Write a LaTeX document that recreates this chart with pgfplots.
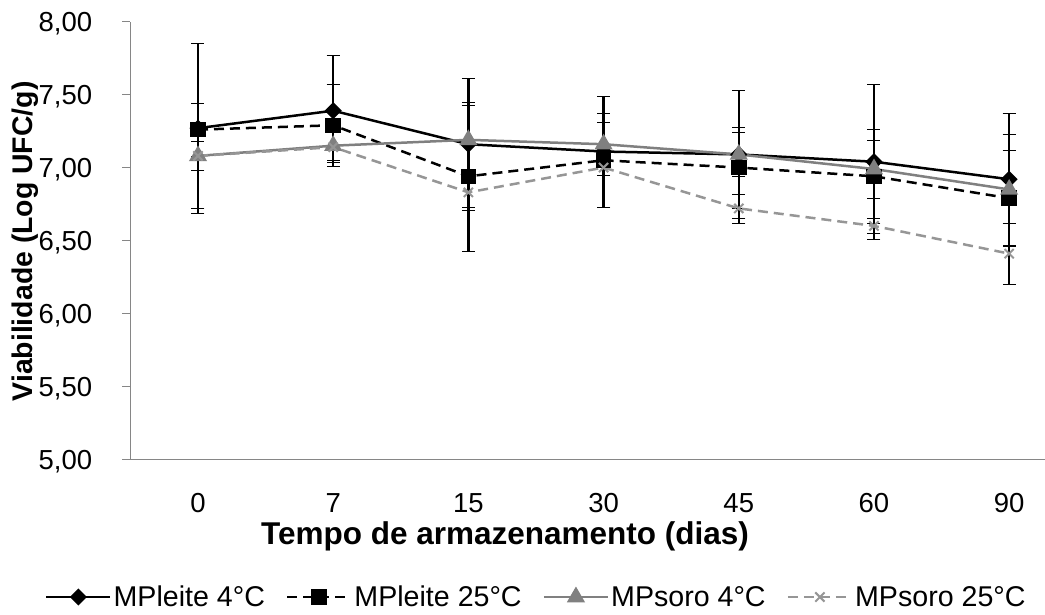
\documentclass[border=0pt]{standalone}
\usepackage{fontspec}
\setmainfont{Liberation Sans}
\usepackage{pgfplots}
\pgfplotsset{compat=1.18}
\usepackage{pgfplotstable}
\definecolor{axgray}{RGB}{134,134,134}
\definecolor{soroA}{RGB}{128,128,128}
\definecolor{soroB}{RGB}{150,150,150}

\pgfplotstableread{
x y e
0 7.27 0.58
1 7.39 0.38
2 7.16 0.45
3 7.11 0.38
4 7.09 0.44
5 7.04 0.53
6 6.92 0.45
}\leiteA
\pgfplotstableread{
x y e
0 7.26 0.18
1 7.29 0.28
2 6.94 0.51
3 7.05 0.32
4 7.00 0.28
5 6.94 0.32
6 6.79 0.33
}\leiteB
\pgfplotstableread{
x y e
0 7.08 0.36
1 7.15 0.10
2 7.19 0.24
3 7.16 0.15
4 7.09 0.15
5 6.99 0.20
6 6.85 0.38
}\soroA
\pgfplotstableread{
x y e
0 7.08 0.10
1 7.14 0.10
2 6.83 0.10
3 7.00 0.05
4 6.72 0.10
5 6.60 0.05
6 6.41 0.21
}\soroB

\pgfplotsset{ebar/.style={error bars/.cd, y dir=both, y explicit,
  error bar style={black, solid, line width=2.5pt, mark size=6.5pt}}}

\begin{document}
\begin{tikzpicture}
\begin{axis}[
  at={(0pt,0pt)}, anchor=south west,
  scale only axis, width=914.6pt, height=437.6pt,
  xmin=-0.5, xmax=6.265, ymin=5, ymax=8,
  axis x line*=bottom, axis y line*=left,
  axis line style={axgray, line width=1.3pt},
  xtick={0,1,2,3,4,5,6}, xticklabels={0,7,15,30,45,60,90},
  ytick={5,5.5,6,6.5,7,7.5,8},
  yticklabels={{5,00},{5,50},{6,00},{6,50},{7,00},{7,50},{8,00}},
  x tick style={draw=none},
  y tick style={axgray, line width=1.3pt},
  tick align=outside, major tick length=8pt,
  tick label style={font=\fontsize{27.5}{33}\selectfont},
  xticklabel style={anchor=base, inner sep=0pt, yshift=-45pt},
  yticklabel style={anchor=base east, inner sep=0pt, xshift=-30pt, yshift=-10pt},
  ylabel={Viabilidade (Log UFC/g)},
  ylabel style={font=\bfseries\fontsize{28.4}{34}\selectfont, at={(axis description cs:-0.1152,0.498)}, anchor=center, inner sep=0pt},
  xlabel={Tempo de armazenamento (dias)},
  xlabel style={font=\bfseries\fontsize{31.5}{36}\selectfont, at={(axis description cs:0.4096,-0.1936)}, anchor=base, inner sep=0pt},
  legend style={at={(axis description cs:-0.0934,-0.3147)}, anchor=west, draw=none, fill=none, inner sep=0pt,
    font=\fontsize{28.6}{33}\selectfont, nodes={inner sep=2pt},
    /tikz/every even column/.append style={column sep=19pt}},
  legend columns=4,
  legend image code/.code={\draw[#1, mark repeat=2, mark phase=2] plot coordinates {(0pt,0pt) (32pt,0pt) (64pt,0pt)};},
]
\addplot[black, line width=2.5pt, mark=square*, mark size=4.8pt, mark options={rotate=45, solid}, ebar]
  table[x=x, y=y, y error=e]{\leiteA};
\addlegendentry{MPleite 4°C}
\addplot[black, line width=2.5pt, dash pattern=on 10pt off 6pt, mark=square*, mark size=6.5pt, mark options={solid}, ebar]
  table[x=x, y=y, y error=e]{\leiteB};
\addlegendentry{MPleite 25°C}
\addplot[soroA, line width=2.5pt, mark=triangle*, mark size=8pt, mark options={solid}, ebar]
  table[x=x, y=y, y error=e]{\soroA};
\addlegendentry{MPsoro 4°C}
\addplot[soroB, line width=2.5pt, dash pattern=on 10pt off 6pt, mark=x, mark size=6.5pt, mark options={solid, line width=2pt}, ebar]
  table[x=x, y=y, y error=e]{\soroB};
\addlegendentry{MPsoro 25°C}
\end{axis}
\pgfresetboundingbox
\path (-130.4pt,-154.7pt) rectangle (914.6pt,459.3pt);
\end{tikzpicture}
\end{document}
